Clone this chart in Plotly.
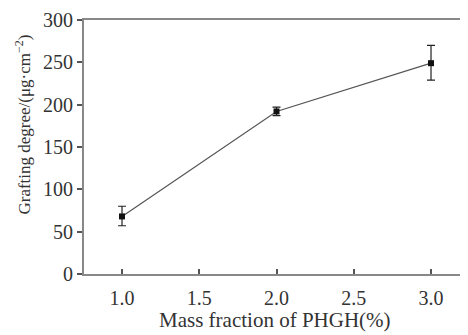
import plotly.graph_objects as go

mass_fraction = [1.0, 2.0, 3.0]
grafting_degree = [68, 192, 249]
err_plus = [12, 5, 21]
err_minus = [11, 5, 20]
x_ticks = [1.0, 1.5, 2.0, 2.5, 3.0]
x_tick_labels = ["1.0", "1.5", "2.0", "2.5", "3.0"]
y_ticks = [0, 50, 100, 150, 200, 250, 300]

font_family = "Liberation Serif"
text_color = "#333333"

fig = go.Figure()
fig.add_trace(go.Scatter(
    x=mass_fraction, y=grafting_degree,
    mode="lines+markers",
    line=dict(color="#555555", width=1.2),
    marker=dict(symbol="square", size=6, color="#111111"),
    error_y=dict(type="data", symmetric=False, array=err_plus, arrayminus=err_minus,
                 color="#222222", thickness=1.2, width=4),
    showlegend=False,
))

# page body has an 8px margin, so the figure is 8px smaller and offset
fig.update_layout(
    width=460, height=327,
    margin=dict(l=76, r=3, t=12, b=61),
    paper_bgcolor="white", plot_bgcolor="white",
    font=dict(family=font_family, size=20, color=text_color),
    xaxis=dict(
        range=[0.754, 3.22], tickvals=x_ticks, ticktext=x_tick_labels,
        ticks="inside", ticklen=5, tickcolor="#555555", tickwidth=1.5,
        ticklabelstandoff=5,
        showline=True, linecolor="#888888", linewidth=2, mirror=True,
        showgrid=False, zeroline=False, automargin=False,
    ),
    yaxis=dict(
        range=[0, 300], tickvals=y_ticks,
        ticks="outside", ticklen=5, tickcolor="#555555", tickwidth=1.5,
        showline=True, linecolor="#888888", linewidth=2, mirror=True,
        showgrid=False, zeroline=False, automargin=False,
    ),
    annotations=[
        dict(
            text="Grafting degree/(μg·cm<sup>−2</sup>)",
            xref="paper", yref="paper", x=-0.161, y=0.587,
            xanchor="center", yanchor="middle", textangle=-90,
            showarrow=False, font=dict(family=font_family, size=17, color=text_color),
        ),
        dict(
            text="Mass fraction of PHGH(%)",
            xref="paper", yref="paper", x=0.5, y=-0.18,
            xanchor="center", yanchor="middle",
            showarrow=False, font=dict(family=font_family, size=21, color=text_color),
        ),
    ],
)

fig.write_html("out.html")
